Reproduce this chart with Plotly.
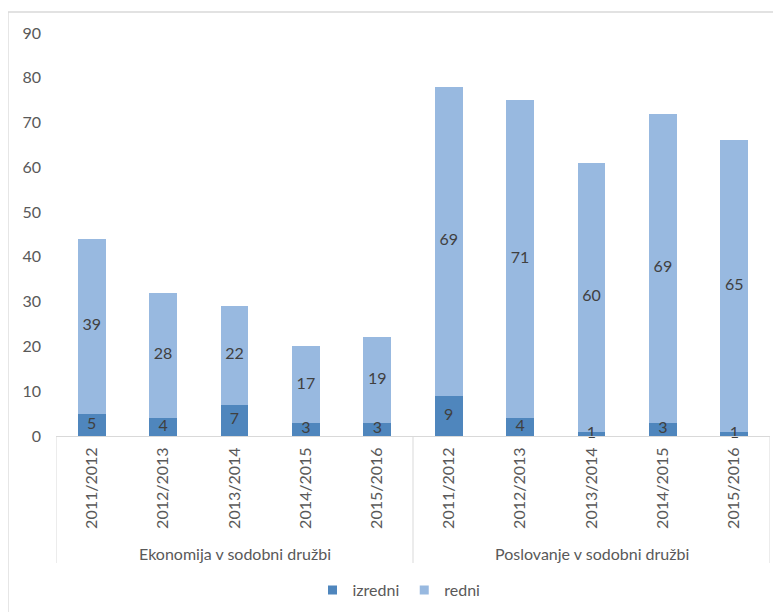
import plotly.graph_objects as go

groups = ["Ekonomija v sodobni družbi", "Poslovanje v sodobni družbi"]
years = ["2011/2012", "2012/2013", "2013/2014", "2014/2015", "2015/2016"]
izredni = [5, 4, 7, 3, 3, 9, 4, 1, 3, 1]
redni = [39, 28, 22, 17, 19, 69, 71, 60, 69, 65]
y_ticks = [0, 10, 20, 30, 40, 50, 60, 70, 80, 90]

labels = years * len(groups)
xs = list(range(len(labels)))

FONT = "Lato"
FS = 16
C_DARK = "#4F86BD"
C_LIGHT = "#98B9E0"
C_TEXT = "#595959"
C_LABEL = "#404040"

fig = go.Figure()
fig.add_trace(go.Bar(x=xs, y=izredni, name="izredni", showlegend=False,
                     marker=dict(color=C_DARK, line=dict(width=0)), hoverinfo="y"))
fig.add_trace(go.Bar(x=xs, y=redni, name="redni", showlegend=False,
                     marker=dict(color=C_LIGHT, line=dict(width=0)), hoverinfo="y"))

# data labels centred in each segment
mid_iz = [v / 2 for v in izredni]
mid_re = [a + b / 2 for a, b in zip(izredni, redni)]
fig.add_trace(go.Scatter(x=xs + xs, y=mid_iz + mid_re, mode="text",
                         text=[str(v) for v in izredni + redni], showlegend=False,
                         textfont=dict(family=FONT, size=FS, color=C_LABEL),
                         cliponaxis=False, hoverinfo="skip"))

# legend proxies (small squares)
for name, col in (("izredni", C_DARK), ("redni", C_LIGHT)):
    fig.add_trace(go.Scatter(x=[None], y=[None], mode="markers", name=name,
                             marker=dict(symbol="square", size=9, color=col)))

# plot area in figure pixels (page has an 8px body margin)
W, H = 773, 604
L, R, T, B = 48, 11, 25, 176
pw, ph = W - L - R, H - T - B

shapes = []
# outer chart border (cropped at right/bottom in the reference)
shapes.append(dict(type="rect", xref="paper", yref="paper",
                   x0=(0 - L) / pw, x1=1.5, y0=-2, y1=1 + (T - 4) / ph,
                   line=dict(color="#D9D9D9", width=1.3), layer="below"))
# group separators
n = len(years)
for k in range(len(groups) + 1):
    xv = k * n - 0.5
    shapes.append(dict(type="line", xref="x", yref="paper", x0=xv, x1=xv,
                       y0=0, y1=-127 / ph, line=dict(color="#D9D9D9", width=1)))

annotations = []
for g, name in enumerate(groups):
    annotations.append(dict(x=g * n + (n - 1) / 2, y=-117 / ph, xref="x", yref="paper",
                            text=name, showarrow=False, yanchor="middle", xanchor="center",
                            font=dict(family=FONT, size=FS, color=C_TEXT)))

fig.update_layout(
    barmode="stack", bargap=0.61,
    width=W, height=H,
    margin=dict(l=L, r=R, t=T, b=B, autoexpand=False),
    plot_bgcolor="white", paper_bgcolor="white",
    font=dict(family=FONT, size=FS, color=C_TEXT),
    shapes=shapes, annotations=annotations,
    legend=dict(orientation="h", x=0.5 - 14 / pw, xanchor="center", y=-154 / ph,
                yanchor="middle", font=dict(family=FONT, size=FS, color=C_TEXT),
                itemwidth=30, traceorder="normal", tracegroupgap=0),
    showlegend=True,
)
fig.update_xaxes(tickmode="array", tickvals=xs, ticktext=labels, tickangle=-90,
                 range=[-0.5, len(xs) - 0.5], showline=True, linecolor="#D9D9D9", linewidth=1,
                 showgrid=False, zeroline=False, ticks="", ticklabelstandoff=4,
                 tickfont=dict(family=FONT, size=FS, color=C_TEXT))
fig.update_yaxes(range=[0, 90], tickmode="array", tickvals=y_ticks, showgrid=False,
                 zeroline=False, showline=False, ticks="", ticklabelstandoff=14,
                 tickfont=dict(family=FONT, size=FS, color=C_TEXT))

fig.write_html("out.html")
